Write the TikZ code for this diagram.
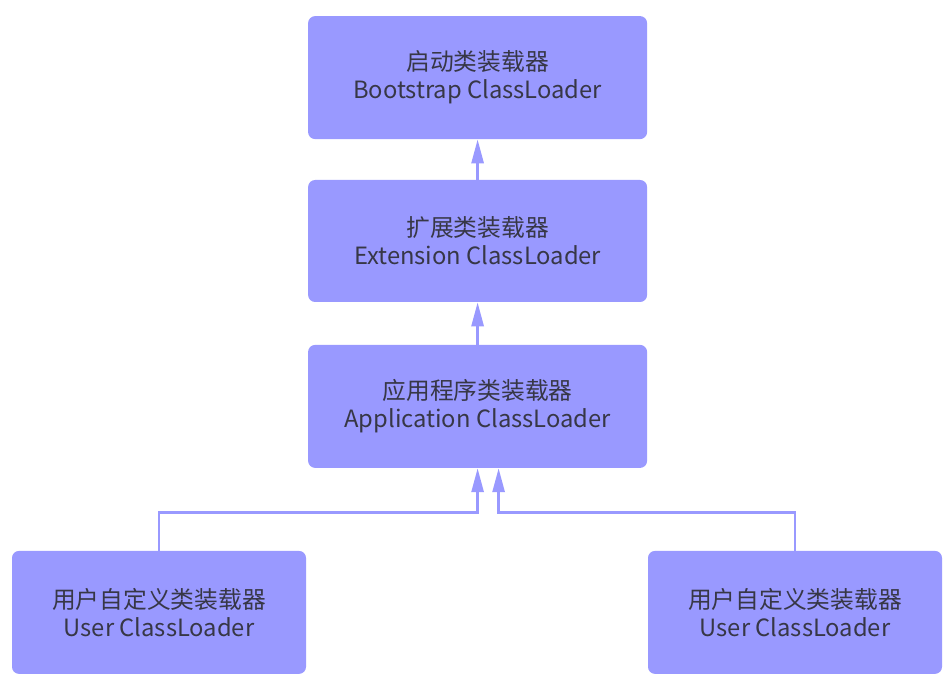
\documentclass[tikz,border=0pt]{standalone}
\usepackage{fontspec}
\setmainfont{Noto Sans CJK SC}
\usetikzlibrary{arrows.meta,calc}
\definecolor{loaderblue}{RGB}{153,153,255}
\definecolor{loadertext}{RGB}{55,55,70}

\begin{document}
\begin{tikzpicture}[>={Triangle[width=0.3cm,length=0.6cm]},
    loader/.style={fill=loaderblue, rounded corners=5pt, text=loadertext,
      align=center, inner sep=0pt, font=\fontsize{16.9}{20}\selectfont},
    arr/.style={->, draw=loaderblue, line width=2pt}]
				\useasboundingbox (0,0) rectangle (23.8,-17.125);
				\node[loader, minimum width=8.475cm, minimum height=3.075cm] (boot) at (11.94,-1.94)
				  {启动类装载器\\Bootstrap ClassLoader};
				\node[loader, minimum width=8.475cm, minimum height=3.05cm] (ext) at (11.94,-6.025)
				  {扩展类装载器\\Extension ClassLoader};
				\node[loader, minimum width=8.475cm, minimum height=3.075cm] (app) at (11.94,-10.16)
				  {应用程序类装载器\\Application ClassLoader};
				\node[loader, minimum width=7.35cm, minimum height=3.075cm] (userL) at (3.975,-15.31)
				  {用户自定义类装载器\\User ClassLoader};
				\node[loader, minimum width=7.35cm, minimum height=3.075cm] (userR) at (19.875,-15.31)
				  {用户自定义类装载器\\User ClassLoader};
				\draw[arr] (ext.north) -- (boot.south);
				\draw[arr] (app.north) -- (ext.south);
				\draw[arr] (userL.north) -- ++(0,0.95) -| (app.south);
				\draw[arr] (userR.north) -- ++(0,0.95) -| ([xshift=0.525cm]app.south);
		\end{tikzpicture}
\end{document}
